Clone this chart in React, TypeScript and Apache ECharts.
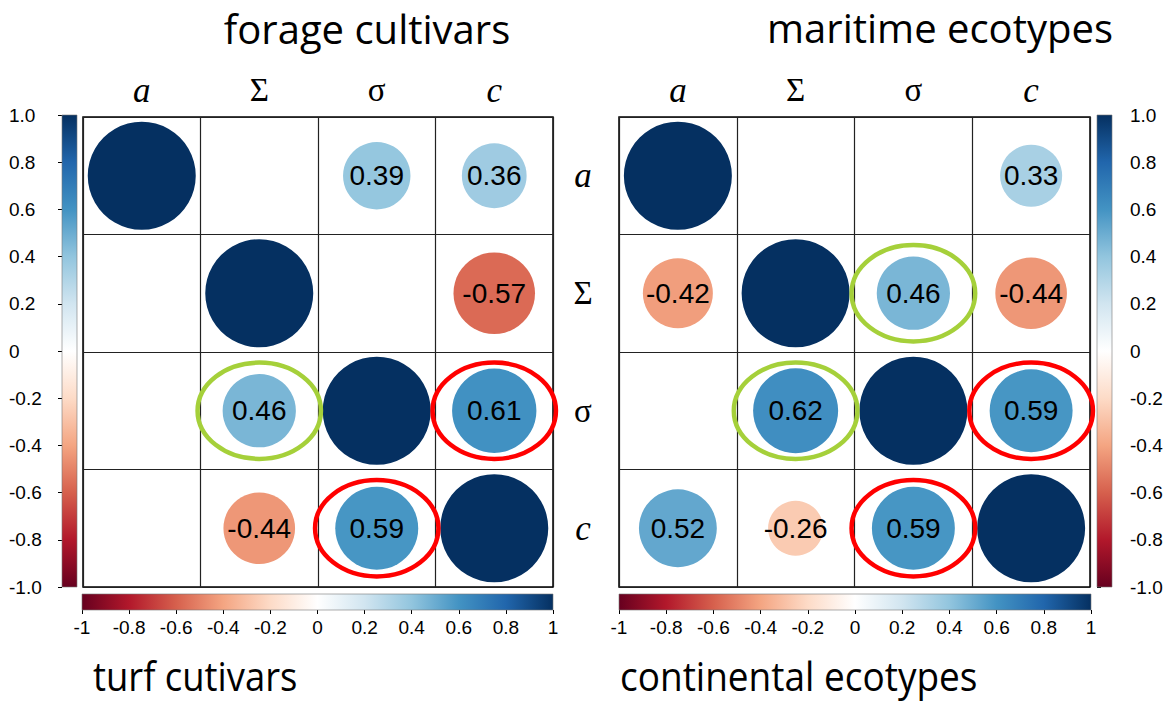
import React, { useEffect, useRef } from "react";
import * as echarts from "echarts";

const COLS = ["a", "Σ", "σ", "c"];
const ROWS = ["a", "Σ", "σ", "c"];

// upper triangle: forage cultivars, lower triangle: turf cultivars
const LEFT_VALUES: (number | null)[][] = [
  [1, null, 0.39, 0.36],
  [null, 1, null, -0.57],
  [null, 0.46, 1, 0.61],
  [null, -0.44, 0.59, 1],
];
// upper triangle: maritime ecotypes, lower triangle: continental ecotypes
const RIGHT_VALUES: (number | null)[][] = [
  [1, null, null, 0.33],
  [-0.42, 1, 0.46, -0.44],
  [null, 0.62, 1, 0.59],
  [0.52, -0.26, 0.59, 1],
];

// highlighted cells: [col, row, kind] kind 0 = green, 1 = red
const LEFT_HIGHLIGHTS = [
  [1, 2, 0],
  [3, 2, 1],
  [2, 3, 1],
];
const RIGHT_HIGHLIGHTS = [
  [2, 1, 0],
  [1, 2, 0],
  [3, 2, 1],
  [2, 3, 1],
];

const PALETTE = [
  "#67001F", "#B2182B", "#D6604D", "#F4A582", "#FDDBC7", "#FFFFFF",
  "#D1E5F0", "#92C5DE", "#4393C3", "#2166AC", "#053061",
];
const HIGHLIGHT_COLORS = ["#A5D03A", "#FF0000"];

const TITLES = {
  topLeft: "forage cultivars",
  topRight: "maritime ecotypes",
  bottomLeft: "turf cutivars",
  bottomRight: "continental ecotypes",
};

function buildData(values: (number | null)[][]) {
  const out: any[] = [];
  values.forEach((row, r) =>
    row.forEach((v, c) => {
      if (v === null) return;
      out.push({ value: [c, r, v], label: { show: r !== c } });
    })
  );
  return out;
}

const headerFormatter = (v: string) =>
  v === "a" || v === "c" ? `{it|${v}}` : `{up|${v}}`;
const headerRich = {
  it: { fontFamily: "Liberation Serif", fontStyle: "italic", fontSize: 35, color: "#000" },
  up: { fontFamily: "Liberation Serif", fontSize: 33, color: "#000" },
};

export default function App() {
  const ref = useRef<HTMLDivElement>(null);
  useEffect(() => {
    document.body.style.margin = "0";
    if (!ref.current) return;
    const chart = echarts.init(ref.current, undefined, { renderer: "svg" });

    const vGrad = new echarts.graphic.LinearGradient(
      0, 0, 0, 1,
      PALETTE.slice().reverse().map((c, i) => ({ offset: i / 10, color: c }))
    );
    const hGrad = new echarts.graphic.LinearGradient(
      0, 0, 1, 0,
      PALETTE.map((c, i) => ({ offset: i / 10, color: c }))
    );

    const matXAxis = (gridIndex: number) => ({
      type: "category",
      gridIndex,
      data: COLS,
      position: "top",
      axisLine: { show: false },
      axisTick: { show: false },
      splitLine: { show: true, interval: 0, lineStyle: { color: "#222", width: 1.2 } },
      axisLabel: {
        show: true,
        margin: 27,
        verticalAlign: "middle",
        formatter: headerFormatter,
        rich: headerRich,
      },
    });
    const matYAxis = (gridIndex: number, showLabels: boolean) => ({
      type: "category",
      gridIndex,
      data: ROWS,
      inverse: true,
      position: "right",
      axisLine: { show: false },
      axisTick: { show: false },
      splitLine: { show: true, interval: 0, lineStyle: { color: "#222", width: 1.2 } },
      axisLabel: {
        show: showLabels,
        margin: 30,
        align: "center",
        formatter: headerFormatter,
        rich: headerRich,
      },
    });
    const hidden = (gridIndex: number) => ({
      type: "value", gridIndex, show: false, min: 0, max: 1,
    });
    const cbAxisCommon = {
      type: "value",
      min: -1,
      max: 1,
      interval: 0.2,
      axisLine: { show: false },
      splitLine: { show: false },
      axisTick: { show: true, length: 4, lineStyle: { color: "#000", width: 1 } },
    };
    const vFmt = (v: number) => {
      const r = Math.round(v * 10) / 10;
      return r === 0 ? "0" : r.toFixed(1);
    };
    const hFmt = (v: number) => String(Math.round(v * 10) / 10);
    const cbLabel = { fontFamily: "Liberation Sans", fontSize: 19, color: "#000" };

    const scatter = (idx: number, values: (number | null)[][]) => ({
      type: "scatter",
      xAxisIndex: idx,
      yAxisIndex: idx,
      data: buildData(values),
      symbol: "circle",
      symbolSize: (val: number[]) => Math.sqrt(Math.abs(val[2])) * 108,
      itemStyle: { opacity: 1 },
      label: {
        show: true,
        position: "inside",
        formatter: (p: any) => p.value[2].toFixed(2),
        fontFamily: "Liberation Sans",
        fontSize: 28,
        color: "#000",
      },
      emphasis: { disabled: true },
      z: 3,
    });
    const ellipses = (idx: number, data: number[][]) => ({
      type: "custom",
      xAxisIndex: idx,
      yAxisIndex: idx,
      data,
      clip: false,
      silent: true,
      z: 5,
      renderItem: (params: any, api: any) => {
        const p = api.coord([api.value(0), api.value(1)]);
        const s = api.size([1, 1]);
        return {
          type: "ellipse",
          shape: { cx: p[0], cy: p[1], rx: s[0] * 0.525, ry: s[1] * 0.41 },
          style: { fill: "none", stroke: HIGHLIGHT_COLORS[api.value(2)], lineWidth: 4.5 },
        };
      },
    });
    const colorbar = (idx: number, grad: any) => ({
      type: "custom",
      xAxisIndex: idx,
      yAxisIndex: idx,
      data: [[0, 0]],
      silent: true,
      clip: false,
      renderItem: (params: any) => {
        const cs = params.coordSys;
        return {
          type: "rect",
          shape: { x: cs.x, y: cs.y, width: cs.width, height: cs.height },
          style: { fill: grad, stroke: "#777", lineWidth: 0.6 },
        };
      },
    });

    const titleStyle = { fontFamily: "Open Sans", fontSize: 40, lineHeight: 40, fill: "#000" };

    chart.setOption({
      animation: false,
      backgroundColor: "#fff",
      grid: [
        { left: 83, top: 117, width: 470, height: 470, show: true, borderColor: "#000", borderWidth: 1.5, backgroundColor: "transparent" },
        { left: 619, top: 117, width: 471, height: 470, show: true, borderColor: "#000", borderWidth: 1.5, backgroundColor: "transparent" },
        { left: 62, top: 115, width: 15, height: 472 },
        { left: 1097, top: 115, width: 15, height: 472 },
        { left: 82, top: 594, width: 471, height: 16 },
        { left: 619, top: 594, width: 472, height: 16 },
      ],
      xAxis: [
        matXAxis(0),
        matXAxis(1),
        hidden(2),
        hidden(3),
        { ...cbAxisCommon, gridIndex: 4, position: "bottom", axisLabel: { ...cbLabel, margin: 8, formatter: hFmt } },
        { ...cbAxisCommon, gridIndex: 5, position: "bottom", axisLabel: { ...cbLabel, margin: 8, formatter: hFmt } },
      ],
      yAxis: [
        matYAxis(0, true),
        matYAxis(1, false),
        { ...cbAxisCommon, gridIndex: 2, position: "left", axisLabel: { ...cbLabel, margin: 53, align: "left", formatter: vFmt } },
        { ...cbAxisCommon, gridIndex: 3, position: "right", axisLabel: { ...cbLabel, margin: 18, align: "left", formatter: vFmt } },
        hidden(4),
        hidden(5),
      ],
      visualMap: {
        type: "continuous",
        show: false,
        min: -1,
        max: 1,
        dimension: 2,
        seriesIndex: [0, 1],
        inRange: { color: PALETTE },
      },
      series: [
        scatter(0, LEFT_VALUES),
        scatter(1, RIGHT_VALUES),
        ellipses(0, LEFT_HIGHLIGHTS),
        ellipses(1, RIGHT_HIGHLIGHTS),
        colorbar(2, vGrad),
        colorbar(3, vGrad),
        colorbar(4, hGrad),
        colorbar(5, hGrad),
      ],
      graphic: [
        { type: "text", x: 367, y: 28, style: { ...titleStyle, text: TITLES.topLeft, align: "center", verticalAlign: "middle" } },
        { type: "text", x: 940, y: 27, style: { ...titleStyle, text: TITLES.topRight, align: "center", verticalAlign: "middle" } },
        { type: "text", x: 93, y: 675, scaleX: 0.91, style: { ...titleStyle, text: TITLES.bottomLeft, align: "left", verticalAlign: "middle" } },
        { type: "text", x: 620, y: 675, scaleX: 0.925, style: { ...titleStyle, text: TITLES.bottomRight, align: "left", verticalAlign: "middle" } },
      ],
    });
    return () => chart.dispose();
  }, []);
  return <div ref={ref} style={{ width: 1166, height: 702 }} />;
}
